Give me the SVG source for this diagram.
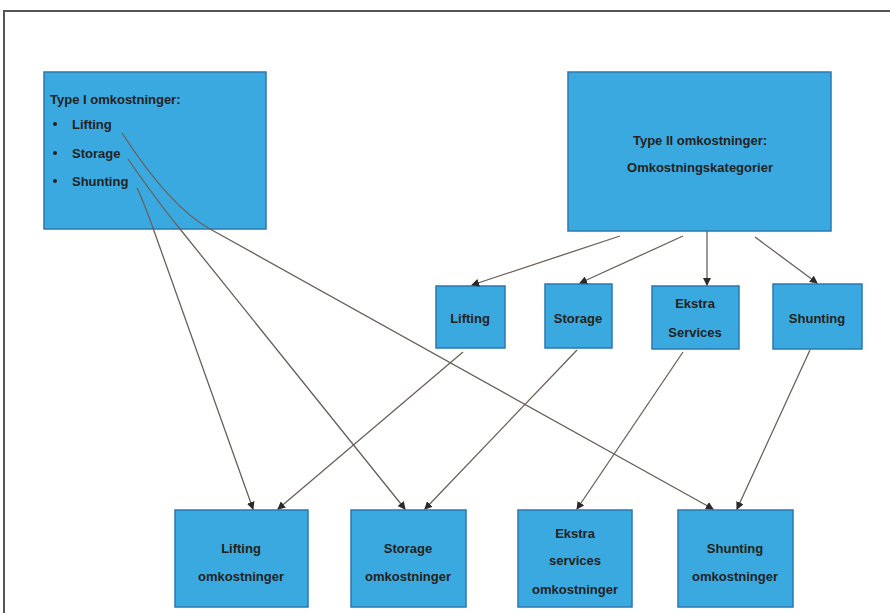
<svg xmlns="http://www.w3.org/2000/svg" width="890" height="613" viewBox="0 0 890 613">
<style>
.box{fill:#3aa9df;stroke:#2b78b0;stroke-width:1.5}
.t{font-family:"Liberation Sans",Arial,sans-serif;font-size:13px;font-weight:bold;fill:#222;text-anchor:middle}
.tl{font-family:"Liberation Sans",Arial,sans-serif;font-size:13px;font-weight:bold;fill:#222}
.c{fill:none;stroke:#6a605b;stroke-width:1.3}
</style>
<defs>
<marker id="ah" markerWidth="8" markerHeight="8" refX="7" refY="4" orient="auto" markerUnits="userSpaceOnUse">
<path d="M0,0 L8,4 L0,8 Z" fill="#2a2a2a"/>
</marker>
</defs>
<rect x="0" y="0" width="890" height="613" fill="#ffffff"/>
<path d="M4,613 L4,11 L890,11" fill="none" stroke="#555" stroke-width="2"/>

<g id="type1">
<rect class="box" x="44" y="72" width="222" height="157"/>
<text class="tl" x="50" y="104">Type I omkostninger:</text>
<circle cx="55" cy="124" r="2" fill="#222"/>
<text class="tl" x="72" y="129">Lifting</text>
<circle cx="55" cy="153" r="2" fill="#222"/>
<text class="tl" x="72" y="158">Storage</text>
<circle cx="55" cy="181" r="2" fill="#222"/>
<text class="tl" x="72" y="186">Shunting</text>
</g>

<g id="type2">
<rect class="box" x="568" y="72" width="263" height="159"/>
<text class="t" x="700" y="145">Type II omkostninger:</text>
<text class="t" x="700" y="172">Omkostningskategorier</text>
</g>

<g id="lifting">
<rect class="box" x="436" y="286" width="69" height="62"/>
<text class="t" x="470" y="323">Lifting</text>
</g>
<g id="storage">
<rect class="box" x="545" y="284" width="67" height="64"/>
<text class="t" x="578" y="323">Storage</text>
</g>
<g id="ekstra">
<rect class="box" x="652" y="286" width="87" height="63"/>
<text class="t" x="695" y="308">Ekstra</text>
<text class="t" x="695" y="337">Services</text>
</g>
<g id="shunting">
<rect class="box" x="773" y="284" width="89" height="65"/>
<text class="t" x="817" y="323">Shunting</text>
</g>

<g id="lifting-omk">
<rect class="box" x="175" y="510" width="133" height="97"/>
<text class="t" x="241" y="553">Lifting</text>
<text class="t" x="241" y="581">omkostninger</text>
</g>
<g id="storage-omk">
<rect class="box" x="351" y="510" width="115" height="97"/>
<text class="t" x="408" y="553">Storage</text>
<text class="t" x="408" y="581">omkostninger</text>
</g>
<g id="ekstra-omk">
<rect class="box" x="518" y="510" width="114" height="97"/>
<text class="t" x="575" y="538">Ekstra</text>
<text class="t" x="575" y="565">services</text>
<text class="t" x="575" y="594">omkostninger</text>
</g>
<g id="shunting-omk">
<rect class="box" x="678" y="510" width="115" height="97"/>
<text class="t" x="735" y="553">Shunting</text>
<text class="t" x="735" y="581">omkostninger</text>
</g>

<g id="connectors">
<line class="c" x1="620" y1="236" x2="472" y2="285" marker-end="url(#ah)"/>
<line class="c" x1="683" y1="236" x2="580" y2="283" marker-end="url(#ah)"/>
<line class="c" x1="707" y1="231" x2="707" y2="285" marker-end="url(#ah)"/>
<line class="c" x1="755" y1="237" x2="817" y2="283" marker-end="url(#ah)"/>
<line class="c" x1="463" y1="352" x2="278" y2="509" marker-end="url(#ah)"/>
<line class="c" x1="577" y1="350" x2="425" y2="509" marker-end="url(#ah)"/>
<line class="c" x1="683" y1="352" x2="577" y2="509" marker-end="url(#ah)"/>
<line class="c" x1="810" y1="350" x2="737" y2="509" marker-end="url(#ah)"/>
<path class="c" d="M122,133 Q170,207 210,229 L713,509" marker-end="url(#ah)"/>
<path class="c" d="M128,159 Q157,201 180,229 L405,509" marker-end="url(#ah)"/>
<path class="c" d="M137,188 Q143,200 153,228 L253,509" marker-end="url(#ah)"/>
</g>
</svg>
